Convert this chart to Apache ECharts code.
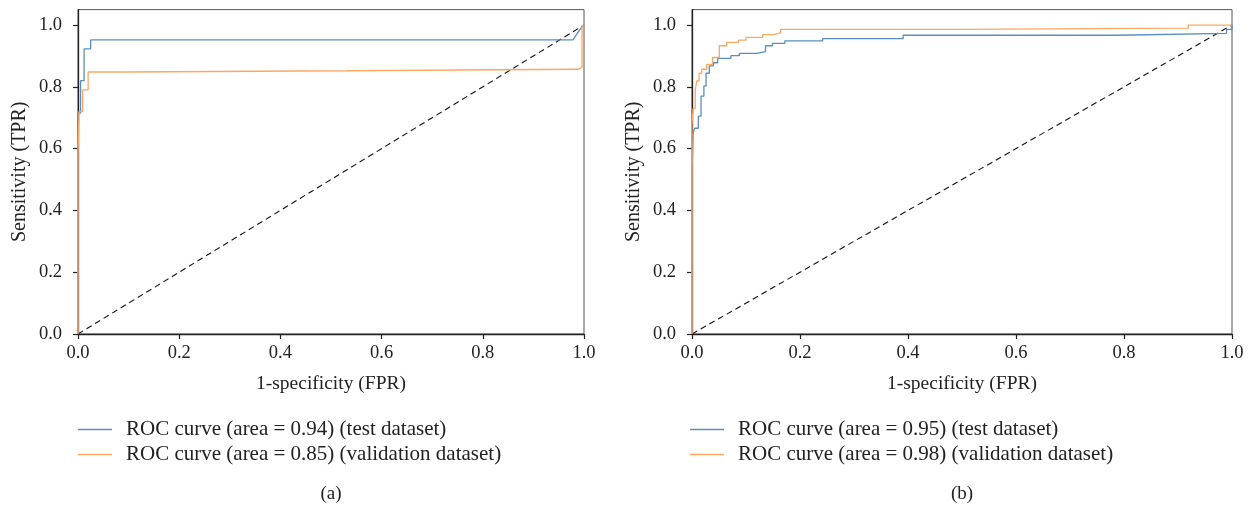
<!DOCTYPE html>
<html>
<head>
<meta charset="utf-8">
<script src="https://cdn.jsdelivr.net/npm/echarts@6/dist/echarts.min.js"></script>
<style>
    html, body { margin: 0; padding: 0; background: #fff; }
    #roc { width: 1253px; height: 509px; }
</style>
</head>
<body>
<div id="roc"></div>
<script>
    // tick labels shared by both panels
    var xTicks = [0, 0.2, 0.4, 0.6, 0.8, 1.0]
    var yTicks = [0, 0.2, 0.4, 0.6, 0.8, 1.0]

    // legend names
    var namesA = ['ROC curve (area = 0.94) (test dataset)', 'ROC curve (area = 0.85) (validation dataset)']
    var namesB = ['ROC curve (area = 0.95) (test dataset)', 'ROC curve (area = 0.98) (validation dataset)']

    // (a) corner points
    var fprTestA = [0, 0, 0.005, 0.005, 0.012, 0.012, 0.025, 0.025, 0.978, 0.996, 1]
    var tprTestA = [0, 0.715, 0.715, 0.82, 0.82, 0.923, 0.923, 0.952, 0.952, 0.995, 1]
    var fprValA = [0, 0, 0.002, 0.002, 0.009, 0.009, 0.02, 0.02, 0.09, 0.09, 0.53, 0.53, 0.989, 0.989, 0.996, 0.996, 1]
    var tprValA = [0, 0.573, 0.573, 0.72, 0.72, 0.79, 0.79, 0.848, 0.848, 0.852, 0.852, 0.857, 0.857, 0.863, 0.863, 0.998, 1]

    // (b)
    var fprTestB = [0, 0, 0.002, 0.002, 0.005, 0.005, 0.0117, 0.0117, 0.0167, 0.0167, 0.022, 0.022, 0.026, 0.026,
        0.032, 0.032, 0.0395, 0.0395, 0.0475, 0.0475, 0.072, 0.072, 0.0877, 0.0877, 0.12, 0.12, 0.136, 0.136,
        0.149, 0.149, 0.172, 0.172, 0.242, 0.242, 0.391, 0.391, 0.788, 0.788, 0.99, 0.99, 1, 1]
    var tprTestB = [0, 0.515, 0.515, 0.65, 0.65, 0.666, 0.666, 0.705, 0.705, 0.77, 0.77, 0.803, 0.803, 0.844,
        0.844, 0.868, 0.868, 0.878, 0.878, 0.892, 0.892, 0.901, 0.901, 0.908, 0.908, 0.914, 0.914, 0.933,
        0.933, 0.941, 0.941, 0.949, 0.949, 0.956, 0.956, 0.967, 0.967, 0.973, 0.973, 0.986, 0.986, 1.0]
    var fprValB = [0, 0, 0.002, 0.002, 0.006, 0.006, 0.009, 0.009, 0.013, 0.013, 0.018, 0.018, 0.027, 0.027,
        0.038, 0.038, 0.0506, 0.0506, 0.064, 0.064, 0.086, 0.086, 0.1, 0.1, 0.131, 0.131, 0.151, 0.151,
        0.164, 0.164, 0.493, 0.493, 0.919, 0.919, 1]
    var tprValB = [0, 0.676, 0.676, 0.73, 0.73, 0.79, 0.79, 0.819, 0.819, 0.844, 0.844, 0.857, 0.857, 0.873,
        0.873, 0.895, 0.895, 0.933, 0.933, 0.944, 0.944, 0.951, 0.951, 0.96, 0.96, 0.969, 0.969, 0.975,
        0.975, 0.986, 0.986, 0.99, 0.99, 1.0, 1.0]

    var chance = [[0, 0], [1, 1]]

    var FONT = 'Liberation Serif'
    var INK = '#222'
    var BLUE = '#5b8ec0'
    var ORANGE = '#fda765'

    function pairs(xs, ys) {
        var out = []
        for (var i = 0; i < xs.length; i++) out.push([xs[i], ys[i]])
        return out
    }

    function xAxisFor(idx) {
        return {
            type: 'value', gridIndex: idx, min: 0, max: 1, interval: 0.2,
            name: '1-specificity (FPR)', nameLocation: 'middle', nameGap: 40,
            nameTextStyle: { fontFamily: FONT, fontSize: 19.5, color: INK },
            axisLine: { lineStyle: { color: INK, width: 1.3 } },
            axisTick: { length: 5, lineStyle: { color: INK, width: 1.2 } },
            axisLabel: {
                fontFamily: FONT, fontSize: 18.5, color: INK, margin: 10,
                customValues: xTicks,
                formatter: function (v) { return v.toFixed(1) }
            },
            splitLine: { show: false },
            z: 3
        }
    }

    function yAxisFor(idx) {
        return {
            type: 'value', gridIndex: idx, min: 0, max: 1.05, interval: 0.2,
            name: 'Sensitivity (TPR)', nameLocation: 'middle', nameGap: 48,
            nameTextStyle: { fontFamily: FONT, fontSize: 20, color: INK },
            axisLine: { show: true, lineStyle: { color: INK, width: 1.3 } },
            axisTick: { show: true, length: 5, lineStyle: { color: INK, width: 1.2 }, customValues: yTicks },
            axisLabel: {
                fontFamily: FONT, fontSize: 18.5, color: INK, margin: 16,
                customValues: yTicks,
                formatter: function (v) { return v.toFixed(1) }
            },
            splitLine: { show: false },
            z: 3
        }
    }

    function rocSeries(name, idx, color, data) {
        return {
            name: name, type: 'line', xAxisIndex: idx, yAxisIndex: idx,
            data: data, showSymbol: false, symbol: 'none', animation: false,
            color: color,
            lineStyle: { color: color, width: 1.3 }
        }
    }

    function chanceSeries(idx) {
        return {
            type: 'line', xAxisIndex: idx, yAxisIndex: idx, data: chance,
            showSymbol: false, symbol: 'none', animation: false, silent: true,
            lineStyle: { color: '#111', width: 1.1, type: [6, 4] }
        }
    }

    function legendFor(left, names) {
        return {
            orient: 'vertical', left: left, top: 419, padding: 0,
            data: names, icon: 'rect', itemWidth: 34, itemHeight: 1.5, itemGap: 4,
            textStyle: { fontFamily: FONT, fontSize: 21, color: INK, padding: [0, 0, 0, 9] },
            selectedMode: false
        }
    }

    var myChart = echarts.init(document.getElementById('roc'))
    var option = {
        backgroundColor: '#fff',
        animation: false,
        grid: [
            { left: 78, right: 669, top: 9.6, bottom: 175, show: true, borderColor: '#555', borderWidth: 1 },
            { left: 692, right: 21, top: 9.6, bottom: 175, show: true, borderColor: '#555', borderWidth: 1 }
        ],
        xAxis: [xAxisFor(0), xAxisFor(1)],
        yAxis: [yAxisFor(0), yAxisFor(1)],
        legend: [legendFor(78, namesA), legendFor(690, namesB)],
        graphic: [
            { type: 'text', x: 331, y: 485, style: { text: '(a)', fontFamily: FONT, fontSize: 19, fill: INK, textAlign: 'center' } },
            { type: 'text', x: 962, y: 485, style: { text: '(b)', fontFamily: FONT, fontSize: 19, fill: INK, textAlign: 'center' } }
        ],
        series: [
            chanceSeries(0),
            rocSeries(namesA[0], 0, BLUE, pairs(fprTestA, tprTestA)),
            rocSeries(namesA[1], 0, ORANGE, pairs(fprValA, tprValA)),
            chanceSeries(1),
            rocSeries(namesB[0], 1, BLUE, pairs(fprTestB, tprTestB)),
            rocSeries(namesB[1], 1, ORANGE, pairs(fprValB, tprValB))
        ]
    }
    myChart.setOption(option)
</script>
</body>
</html>
